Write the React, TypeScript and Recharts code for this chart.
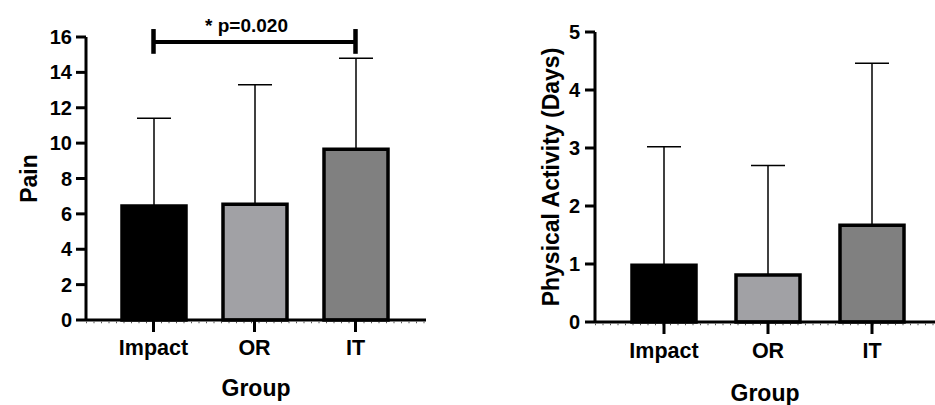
import React from 'react';
import { BarChart, Bar, XAxis, YAxis, Cell, ErrorBar, ReferenceLine, Label } from 'recharts';

// ---- data ----
const groups = ['Impact', 'OR', 'IT'];
const painMean = [6.45, 6.55, 9.65];
const painSD = [4.95, 6.75, 5.15];
const activityMean = [0.98, 0.81, 1.67];
const activitySD = [2.04, 1.89, 2.79];
const painTicks = [0, 2, 4, 6, 8, 10, 12, 14, 16];
const activityTicks = [0, 1, 2, 3, 4, 5];
const barColors = ['#000000', '#a1a1a5', '#808080'];
const sigLabel = '* p=0.020';
const sigFrom = 'Impact';
const sigTo = 'IT';
const sigLevel = 15.72;
const sigLow = 15.05;
const sigHigh = 16.45;

const FONT = '"Liberation Sans", Arial, Helvetica, sans-serif';

const painData = groups.map((g, i) => ({ group: g, mean: painMean[i], err: [0, painSD[i]] }));
const activityData = groups.map((g, i) => ({ group: g, mean: activityMean[i], err: [0, activitySD[i]] }));

const makeYTitle = (x: number) => (props: any) => {
  const vb = props.viewBox || {};
  const cy = (vb.y ?? 0) + (vb.height ?? 0) / 2;
  return (
    <text
      x={x}
      y={cy}
      transform={`rotate(-90, ${x}, ${cy})`}
      textAnchor="middle"
      fontFamily={FONT}
      fontWeight={700}
      fontSize={23}
      fill="#000"
    >
      {props.value}
    </text>
  );
};

const makeXTitle = (dy: number) => (props: any) => {
  const vb = props.viewBox || {};
  const cx = (vb.x ?? 0) + (vb.width ?? 0) / 2;
  const y = (vb.y ?? 0) + dy;
  return (
    <text x={cx} y={y} textAnchor="middle" fontFamily={FONT} fontWeight={700} fontSize={23} fill="#000">
      {props.value}
    </text>
  );
};

const SigText = (props: any) => {
  const vb = props.viewBox || {};
  const cx = (vb.x ?? 0) + (vb.width ?? 0) / 2 - 8;
  const y = (vb.y ?? 0) - 10;
  return (
    <text x={cx} y={y} textAnchor="middle" fontFamily={FONT} fontWeight={700} fontSize={19} fill="#000">
      {sigLabel}
    </text>
  );
};

const minorTicks = (p: any) => (
  <line
    x1={p.x1}
    y1={p.y1 + 2.5}
    x2={p.x2}
    y2={p.y2 + 2.5}
    stroke="#555"
    strokeWidth={1.5}
    strokeDasharray="1 6.5"
  />
);

const xTick = { fontFamily: FONT, fontWeight: 700, fontSize: 21.5, fill: '#000' };
const yTick = { fontFamily: FONT, fontWeight: 700, fontSize: 20, fill: '#000' };
const axisStyle = { stroke: '#000', strokeWidth: 3 };

const css = `
.recharts-cartesian-axis-line { stroke: #000 !important; stroke-width: 3px !important; }
.recharts-cartesian-axis-tick-line { stroke: #000 !important; stroke-width: 3px !important; }
`;

export default function App() {
  return (
    <div style={{ position: 'absolute', left: 0, top: 0, width: 935, height: 405, background: '#fff' }}>
      <style>{css}</style>
      <div style={{ position: 'absolute', left: 0, top: 0 }}>
        <BarChart width={430} height={405} data={painData} margin={{ top: 37, right: 4, bottom: 0, left: 0 }}>
          <ReferenceLine y={0} ifOverflow="visible" shape={minorTicks} />
          <XAxis
            dataKey="group"
            height={85}
            padding={{ left: 17, right: 20 }}
            stroke="#000"
            axisLine={axisStyle}
            tickLine={axisStyle}
            tickSize={12}
            tickMargin={8}
            tick={xTick}
            interval={0}
          >
            <Label value="Group" content={makeXTitle(76)} />
          </XAxis>
          <YAxis
            width={86}
            domain={[0, 16]}
            ticks={painTicks}
            interval={0}
            stroke="#000"
            axisLine={axisStyle}
            tickLine={axisStyle}
            tickSize={10}
            tickMargin={4}
            tick={yTick}
          >
            <Label value="Pain" content={makeYTitle(37)} />
          </YAxis>
          <Bar dataKey="mean" barSize={64} stroke="#000" strokeWidth={3.5} isAnimationActive={false}>
            {painData.map((d, i) => (
              <Cell key={d.group} fill={barColors[i]} />
            ))}
            <ErrorBar dataKey="err" width={17} stroke="#000" strokeWidth={1.5} direction="y" isAnimationActive={false} />
          </Bar>
          <ReferenceLine
            segment={[{ x: sigFrom, y: sigLevel }, { x: sigTo, y: sigLevel }]}
            stroke="#000"
            strokeWidth={4}
            ifOverflow="visible"
            label={<Label content={SigText} />}
          />
          <ReferenceLine
            segment={[{ x: sigFrom, y: sigLow }, { x: sigFrom, y: sigHigh }]}
            stroke="#000"
            strokeWidth={4.5}
            ifOverflow="visible"
          />
          <ReferenceLine
            segment={[{ x: sigTo, y: sigLow }, { x: sigTo, y: sigHigh }]}
            stroke="#000"
            strokeWidth={4.5}
            ifOverflow="visible"
          />
        </BarChart>
      </div>
      <div style={{ position: 'absolute', left: 500, top: 0 }}>
        <BarChart width={435} height={405} data={activityData} margin={{ top: 32, right: 0, bottom: 0, left: 0 }}>
          <ReferenceLine y={0} ifOverflow="visible" shape={minorTicks} />
          <XAxis
            dataKey="group"
            height={83}
            padding={{ left: 17, right: 11 }}
            stroke="#000"
            axisLine={axisStyle}
            tickLine={axisStyle}
            tickSize={12}
            tickMargin={9}
            tick={xTick}
            interval={0}
          >
            <Label value="Group" content={makeXTitle(79)} />
          </XAxis>
          <YAxis
            width={95}
            domain={[0, 5]}
            ticks={activityTicks}
            interval={0}
            stroke="#000"
            axisLine={axisStyle}
            tickLine={axisStyle}
            tickSize={10}
            tickMargin={5}
            tick={yTick}
          >
            <Label value="Physical Activity (Days)" content={makeYTitle(59)} />
          </YAxis>
          <Bar dataKey="mean" barSize={64} stroke="#000" strokeWidth={3.5} isAnimationActive={false}>
            {activityData.map((d, i) => (
              <Cell key={d.group} fill={barColors[i]} />
            ))}
            <ErrorBar dataKey="err" width={17} stroke="#000" strokeWidth={1.5} direction="y" isAnimationActive={false} />
          </Bar>
        </BarChart>
      </div>
    </div>
  );
}
